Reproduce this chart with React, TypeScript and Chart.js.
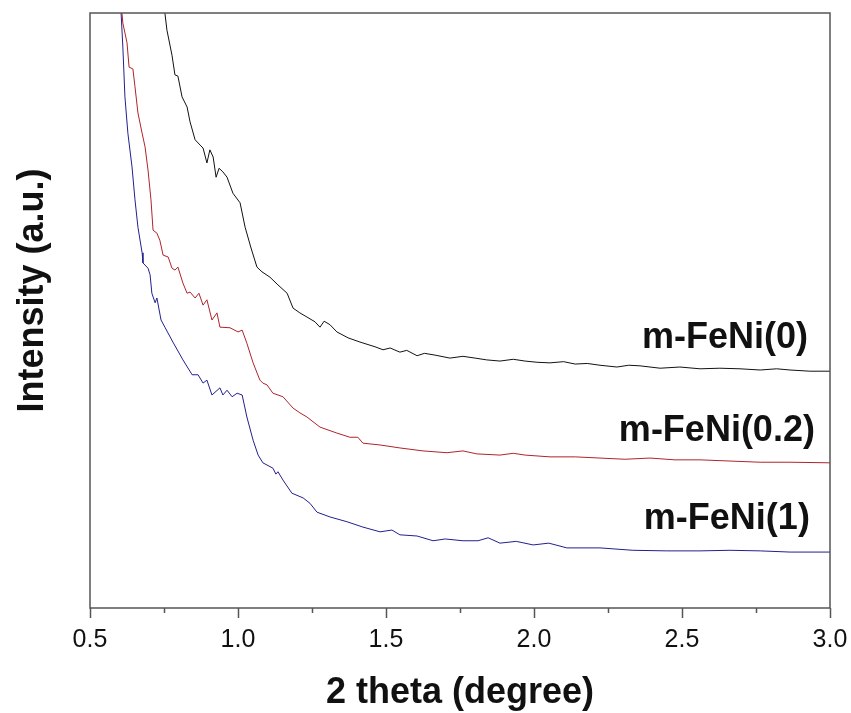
import React, { useEffect, useRef } from "react";
import { Chart, registerables } from "chart.js";

Chart.register(...registerables);

// ---- data (2 theta in degrees, intensity in arbitrary units) ----
const feNi0X = [0.750, 0.753, 0.760, 0.777, 0.787, 0.797, 0.811, 0.828, 0.838, 0.855, 0.872, 0.882, 0.895, 0.905, 0.916, 0.926, 0.936, 0.949, 0.963, 0.983, 1.007, 1.024, 1.044, 1.064, 1.081, 1.108, 1.135, 1.166, 1.186, 1.209, 1.233, 1.260, 1.277, 1.291, 1.311, 1.334, 1.372, 1.412, 1.463, 1.490, 1.514, 1.547, 1.570, 1.605, 1.630, 1.666, 1.716, 1.760, 1.801, 1.840, 1.885, 1.930, 1.970, 2.010, 2.054, 2.100, 2.139, 2.180, 2.223, 2.280, 2.320, 2.358, 2.426, 2.493, 2.561, 2.628, 2.696, 2.764, 2.820, 2.865, 2.932, 3.000];
const feNi0Y = [101.3, 100.0, 97.1, 92.9, 89.6, 89.4, 85.9, 84.2, 81.7, 78.7, 77.8, 77.3, 74.8, 77.0, 75.8, 72.4, 73.9, 73.3, 72.4, 69.7, 68.1, 64.0, 60.5, 57.3, 56.5, 55.6, 54.3, 52.9, 50.4, 49.6, 48.9, 48.1, 47.2, 48.2, 47.6, 46.4, 45.4, 44.7, 43.9, 43.4, 43.7, 43.0, 43.3, 42.4, 42.8, 42.5, 42.0, 42.3, 42.0, 41.7, 41.5, 41.8, 41.5, 41.3, 41.2, 41.4, 41.0, 41.1, 40.8, 40.5, 40.8, 40.7, 40.3, 40.5, 40.2, 40.3, 40.2, 40.0, 40.2, 40.0, 39.8, 39.8];

const feNi02X = [0.605, 0.608, 0.611, 0.625, 0.632, 0.645, 0.652, 0.662, 0.676, 0.686, 0.696, 0.706, 0.713, 0.726, 0.736, 0.747, 0.764, 0.777, 0.787, 0.797, 0.814, 0.828, 0.838, 0.855, 0.868, 0.882, 0.895, 0.912, 0.929, 0.939, 0.973, 1.000, 1.014, 1.030, 1.051, 1.074, 1.084, 1.098, 1.118, 1.152, 1.186, 1.209, 1.233, 1.277, 1.334, 1.378, 1.405, 1.422, 1.480, 1.547, 1.625, 1.706, 1.760, 1.807, 1.885, 1.930, 1.970, 2.054, 2.139, 2.223, 2.307, 2.392, 2.476, 2.561, 2.662, 2.764, 2.865, 3.000];
const feNi02Y = [101.7, 100.0, 98.3, 95.0, 90.9, 90.6, 87.6, 83.2, 79.8, 77.5, 73.6, 68.6, 63.5, 63.0, 61.8, 59.3, 59.0, 57.1, 56.8, 57.3, 54.6, 52.9, 53.1, 52.1, 52.9, 50.9, 51.8, 48.4, 49.6, 47.2, 47.1, 46.4, 46.7, 44.5, 41.2, 38.3, 37.8, 37.5, 36.1, 35.5, 33.6, 32.8, 32.1, 30.4, 29.4, 28.7, 28.7, 27.7, 27.4, 26.9, 26.4, 26.1, 26.4, 25.9, 25.7, 26.0, 25.7, 25.4, 25.4, 25.2, 25.0, 25.2, 24.9, 24.9, 24.7, 24.5, 24.5, 24.4];

const feNi1X = [0.601, 0.605, 0.611, 0.618, 0.628, 0.642, 0.652, 0.662, 0.676, 0.679, 0.696, 0.703, 0.709, 0.720, 0.726, 0.740, 0.753, 0.780, 0.814, 0.845, 0.865, 0.882, 0.895, 0.912, 0.939, 0.949, 0.963, 0.980, 0.997, 1.014, 1.030, 1.051, 1.068, 1.084, 1.118, 1.128, 1.135, 1.152, 1.182, 1.220, 1.243, 1.267, 1.311, 1.368, 1.422, 1.480, 1.520, 1.547, 1.605, 1.659, 1.700, 1.760, 1.811, 1.845, 1.885, 1.940, 1.997, 2.050, 2.111, 2.223, 2.334, 2.449, 2.561, 2.662, 2.764, 2.865, 3.000];
const feNi1Y = [101.7, 100.0, 94.3, 85.9, 79.8, 74.1, 68.6, 64.0, 59.7, 58.0, 57.1, 56.0, 52.9, 51.3, 52.1, 48.4, 47.2, 44.7, 41.7, 39.2, 39.2, 37.8, 38.3, 35.8, 37.0, 35.8, 36.6, 35.5, 36.1, 35.8, 32.1, 28.2, 25.7, 24.4, 23.5, 22.5, 22.9, 21.5, 19.3, 18.5, 17.6, 16.1, 15.3, 14.5, 13.6, 12.8, 13.1, 12.3, 12.1, 11.3, 11.6, 11.3, 11.3, 11.8, 10.9, 11.2, 10.6, 10.9, 10.1, 10.1, 9.7, 9.6, 9.6, 9.7, 9.6, 9.4, 9.4];

const seriesNames = ["m-FeNi(0)", "m-FeNi(0.2)", "m-FeNi(1)"];
const seriesColors = ["#111111", "#b0232b", "#20208f"];
const labelX = [2.926, 2.949, 2.932];
const labelY = [45.4, 29.7, 15.0];

const xMin = 0.5;
const xMax = 3.0;
const yMin = 0;
const yMax = 100;

const FONT = "'Liberation Sans', Arial, sans-serif";

function toPoints(xs: number[], ys: number[]) {
  return xs.map((x, i) => ({ x, y: ys[i] }));
}

const framePlugin = {
  id: "frame",
  afterDatasetsDraw(chart: any) {
    const { ctx, chartArea } = chart;
    ctx.save();
    ctx.strokeStyle = "#555555";
    ctx.lineWidth = 1.5;
    ctx.strokeRect(chartArea.left, chartArea.top, chartArea.right - chartArea.left, chartArea.bottom - chartArea.top);
    ctx.restore();
  },
};

const seriesLabelPlugin = {
  id: "seriesLabels",
  afterDatasetsDraw(chart: any) {
    const { ctx } = chart;
    const xs = chart.scales.x;
    const ys = chart.scales.y;
    ctx.save();
    ctx.font = `bold 36px ${FONT}`;
    ctx.fillStyle = "#111111";
    ctx.textAlign = "right";
    ctx.textBaseline = "middle";
    seriesNames.forEach((name, i) => {
      ctx.fillText(name, xs.getPixelForValue(labelX[i]), ys.getPixelForValue(labelY[i]));
    });
    ctx.restore();
  },
};

export default function App() {
  const canvasRef = useRef<HTMLCanvasElement | null>(null);

  useEffect(() => {
    document.body.style.margin = "0";
    const canvas = canvasRef.current;
    if (!canvas) return;
    const datasets = [
      toPoints(feNi0X, feNi0Y),
      toPoints(feNi02X, feNi02Y),
      toPoints(feNi1X, feNi1Y),
    ].map((data, i) => ({
      label: seriesNames[i],
      data,
      borderColor: seriesColors[i],
      backgroundColor: seriesColors[i],
      borderWidth: 1,
      pointRadius: 0,
      tension: 0,
      fill: false,
    }));

    const chart = new Chart(canvas, {
      type: "line",
      data: { datasets },
      plugins: [framePlugin, seriesLabelPlugin],
      options: {
        animation: false,
        responsive: true,
        maintainAspectRatio: false,
        layout: { padding: { top: 13, right: 21, left: 0, bottom: 0 } },
        plugins: {
          legend: { display: false },
          tooltip: { enabled: false },
        },
        scales: {
          x: {
            type: "linear",
            min: xMin,
            max: xMax,
            border: { display: false },
            grid: {
              drawOnChartArea: false,
              drawTicks: true,
              tickLength: 10,
              tickColor: "#555555",
              tickWidth: 1.5,
              tickBorderDash: (c: any) => {
                const v = c.tick ? c.tick.value : 0;
                const major = Math.abs(v * 2 - Math.round(v * 2)) < 1e-6;
                return major ? [] : [5, 100];
              },
            },
            ticks: {
              stepSize: 0.25,
              autoSkip: false,
              maxRotation: 0,
              padding: 7,
              color: "#111111",
              font: { family: FONT, size: 25 },
              callback: (v: any) => {
                const n = Number(v);
                return Math.abs(n * 2 - Math.round(n * 2)) < 1e-6 ? n.toFixed(1) : "";
              },
            },
            title: {
              display: true,
              text: "2 theta (degree)",
              color: "#111111",
              font: { family: FONT, size: 36, weight: "bold", lineHeight: 1 },
              padding: { top: 0, bottom: 2 },
            },
            afterFit: (s: any) => {
              s.height = 105;
              s.paddingLeft = 0;
              s.paddingRight = 0;
            },
          },
          y: {
            type: "linear",
            min: yMin,
            max: yMax,
            border: { display: false },
            grid: { display: false },
            ticks: { display: false },
            title: {
              display: true,
              text: "    Intensity (a.u.)",
              color: "#111111",
              font: { family: FONT, size: 36, weight: "bold", lineHeight: 1 },
              padding: { top: 15, bottom: 0 },
            },
            afterFit: (s: any) => {
              s.width = 90;
              s.paddingTop = 0;
              s.paddingBottom = 0;
            },
          },
        },
      },
    });
    return () => chart.destroy();
  }, []);

  return (
    <div style={{ position: "relative", width: 851, height: 713, background: "#ffffff" }}>
      <canvas ref={canvasRef} />
    </div>
  );
}
